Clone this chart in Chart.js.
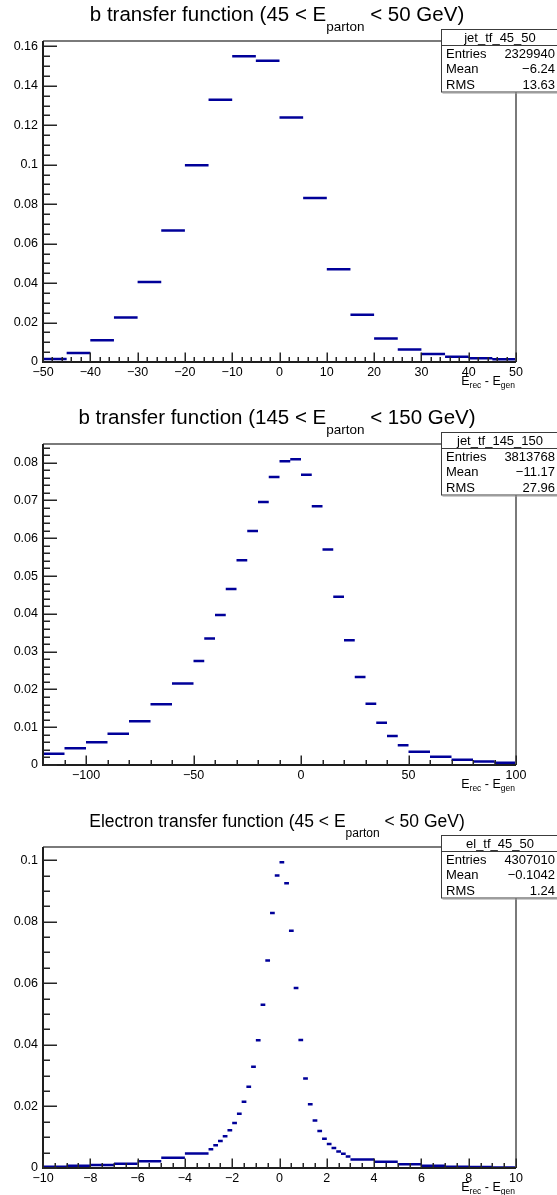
<!DOCTYPE html>
<html>
<head>
<meta charset="utf-8">
<script src="https://cdn.jsdelivr.net/npm/chart.js@4/dist/chart.umd.min.js"></script>
<style>
  html, body { margin: 0; padding: 0; background: #fff; }
  #wrap { position: relative; width: 557px; height: 1195px; overflow: hidden; background: #fff; }
  .pad { position: absolute; left: 0; width: 557px; height: 392px; }
</style>
</head>
<body>
<div id="wrap">
  <div class="pad" style="top:0px"><canvas id="c1" width="557" height="392"></canvas></div>
  <div class="pad" style="top:403px"><canvas id="c2" width="557" height="392"></canvas></div>
  <div class="pad" style="top:806px"><canvas id="c3" width="557" height="392"></canvas></div>
</div>
<script>
// --- data (fraction of entries per bin) ---

// b jets, 45 < E_parton < 50 GeV
const bEdges45 = [-50,-45,-40,-35,-30,-25,-20,-15,-10,-5,0,5,10,15,20,25,30,35,40,45,50];
const bFrac45 = [0.0015,0.0045,0.0110,0.0226,0.0406,0.0667,0.0997,0.1330,0.1550,0.1527,
                 0.1240,0.0832,0.0470,0.0240,0.0119,0.0064,0.0040,0.0026,0.0019,0.0014];
const bXTicks45 = [-50,-40,-30,-20,-10,0,10,20,30,40,50];
const bYTicks45 = [0,0.02,0.04,0.06,0.08,0.1,0.12,0.14,0.16];

// b jets, 145 < E_parton < 150 GeV (variable binning)
const bEdges145 = [-120,-110,-100,-90,-80,-70,-60,-50,-45,-40,-35,-30,-25,-20,-15,-10,-5,
                   0,5,10,15,20,25,30,35,40,45,50,60,70,80,90,100];
const bFrac145 = [0.0030,0.0044,0.0060,0.0083,0.0116,0.0161,0.0216,
                  0.0275,0.0335,0.0397,0.0466,0.0542,0.0619,0.0696,0.0762,0.0804,0.0809,
                  0.0768,0.0685,0.0570,0.0445,0.0330,0.0233,0.0162,0.0112,0.0077,0.0052,
                  0.0035,0.0022,0.0014,0.0009,0.0006];
const bXTicks145 = [-100,-50,0,50,100];
const bYTicks145 = [0,0.01,0.02,0.03,0.04,0.05,0.06,0.07,0.08];

// electrons, 45 < E_parton < 50 GeV (variable binning)
const elEdges45 = [-10,-9,-8,-7,-6,-5,-4,-3,
                   -2.8,-2.6,-2.4,-2.2,-2,-1.8,-1.6,-1.4,-1.2,-1,-0.8,-0.6,-0.4,-0.2,
                   0,0.2,0.4,0.6,0.8,1,1.2,1.4,1.6,1.8,2,2.2,2.4,2.6,2.8,3,
                   4,5,6,7,8,9,10];
const elFrac45 = [0.0004,0.0007,0.0010,0.0014,0.0022,0.0033,0.0047,
                  0.0061,0.0074,0.0088,0.0103,0.0123,0.0146,0.0176,0.0215,0.0264,0.0329,
                  0.0415,0.0530,0.0674,0.0828,0.0950,0.0993,0.0925,0.0771,0.0585,0.0416,
                  0.0291,0.0207,0.0154,0.0120,0.0095,0.0078,0.0065,0.0054,0.0046,0.0037,
                  0.0028,0.0020,0.0012,0.0007,0.0004,0.0003,0.0002];
const elXTicks45 = [-10,-8,-6,-4,-2,0,2,4,6,8,10];
const elYTicks45 = [0,0.02,0.04,0.06,0.08,0.1];

// stats boxes
const statLabels = ['Entries', 'Mean', 'RMS'];
const stats45 = ['2329940', '-6.24', '13.63'];
const stats145 = ['3813768', '-11.17', '27.96'];
const statsEl = ['4307010', '-0.1042', '1.24'];

const FONT = "'Liberation Sans', Arial, Helvetica, sans-serif";
const LINE = '#000099';

// ROOT-like number text with a real minus sign
function fmt(v){
  return String(parseFloat(Number(v).toFixed(4))).replace('-', '\u2212');
}

// one flat segment per bin, broken between bins
function histPoints(edges, vals){
  const pts = [];
  vals.forEach((v, i) => {
    pts.push({x: edges[i], y: v}, {x: edges[i+1], y: v}, {x: edges[i+1], y: null});
  });
  return pts;
}

// draw a run of [text, size, drop] pieces, centred or right aligned at x
function drawPieces(ctx, x, y, pieces, align){
  const widths = pieces.map(([t, s]) => { ctx.font = s + 'px ' + FONT; return ctx.measureText(t).width; });
  const total = widths.reduce((a, b) => a + b, 0);
  let x0 = align === 'center' ? x - total / 2 : x - total;
  ctx.textAlign = 'left';
  ctx.textBaseline = 'alphabetic';
  pieces.forEach(([t, s, drop], i) => {
    ctx.font = s + 'px ' + FONT;
    ctx.fillText(t, x0, y + drop);
    x0 += widths[i];
  });
}

// frame, inward ticks, title, axis title and stats box
function rootPlugin(p){
  return {
    id: 'rootStyle',
    afterDraw(chart){
      const ctx = chart.ctx, a = chart.chartArea;
      const xs = chart.scales.x, ys = chart.scales.y;
      ctx.save();

      // frame (top / right) and axes (left / bottom)
      ctx.lineWidth = 2;
      ctx.strokeStyle = '#7a7a7a';
      ctx.beginPath();
      ctx.moveTo(a.left, a.top); ctx.lineTo(a.right, a.top); ctx.lineTo(a.right, a.bottom);
      ctx.stroke();
      ctx.strokeStyle = '#1e1e1e';
      ctx.beginPath();
      ctx.moveTo(a.left, a.top); ctx.lineTo(a.left, a.bottom); ctx.lineTo(a.right, a.bottom);
      ctx.stroke();

      // ticks pointing into the frame
      ctx.lineWidth = 1.5;
      ctx.strokeStyle = '#262626';
      ctx.beginPath();
      const isMajor = (list, v, eps) => list.some(m => Math.abs(m - v) < eps);
      for (let k = 0; k * p.yMinor <= ys.max + 1e-9; k++){
        const v = k * p.yMinor;
        const py = Math.round(ys.getPixelForValue(v)) + 0.25;
        const len = isMajor(p.yTicks, v, p.yMinor / 10) ? 14 : 7;
        ctx.moveTo(a.left, py); ctx.lineTo(a.left + len, py);
      }
      for (let k = 0; p.xMin + k * p.xMinor <= p.xMax + 1e-9; k++){
        const v = p.xMin + k * p.xMinor;
        const px = Math.round(xs.getPixelForValue(v)) + 0.25;
        const len = isMajor(p.xTicks, v, p.xMinor / 10) ? 9.5 : 5;
        ctx.moveTo(px, a.bottom); ctx.lineTo(px, a.bottom - len);
      }
      ctx.stroke();

      ctx.fillStyle = '#000';
      // title with subscript
      const ts = p.titleSize, ss = p.titleSub;
      drawPieces(ctx, 277, 21, [[p.title[0], ts, 0], [p.title[1], ss, 10], [p.title[2], ts, 0]], 'center');
      // x-axis title, right aligned at the end of the axis
      drawPieces(ctx, a.right - 1, 385,
        [['E', 12.5, 0], ['rec', 8.5, 2.5], [' - ', 12.5, 0], ['E', 12.5, 0], ['gen', 8.5, 2.5]], 'right');

      // stats box
      const bx = 441.5, by = 29.5, bw = 120, bh = 62.5;
      ctx.fillStyle = '#fff';
      ctx.fillRect(bx, by, bw, bh);
      ctx.lineWidth = 1;
      ctx.strokeStyle = '#3c3c3c';
      ctx.strokeRect(bx, by, bw, bh);
      ctx.strokeStyle = '#9a9a9a';
      ctx.beginPath(); ctx.moveTo(bx + 1, by + bh + 1); ctx.lineTo(557, by + bh + 1); ctx.stroke();
      ctx.strokeStyle = '#3c3c3c';
      ctx.beginPath(); ctx.moveTo(bx, by + 16); ctx.lineTo(557, by + 16); ctx.stroke();
      ctx.fillStyle = '#000';
      ctx.font = '13px ' + FONT;
      ctx.textBaseline = 'alphabetic';
      ctx.textAlign = 'center';
      ctx.fillText(p.statName, 500, 41.5);
      statLabels.forEach((lab, i) => {
        const yy = 58 + i * 15.3;
        ctx.textAlign = 'left';
        ctx.fillText(lab, 446, yy);
        ctx.textAlign = 'right';
        ctx.fillText(fmt(p.stats[i]), 555, yy);
      });
      ctx.restore();
    }
  };
}

function makePanel(id, p){
  const ymax = 1.05 * Math.max(...p.values);
  const tickFont = { family: FONT, size: 12.5 };
  return new Chart(document.getElementById(id), {
    type: 'line',
    data: {
      datasets: [{
        data: histPoints(p.edges, p.values),
        borderColor: LINE,
        borderWidth: 2.5,
        pointRadius: 0,
        spanGaps: false,
        tension: 0,
        fill: false
      }]
    },
    options: {
      responsive: false,
      animation: false,
      devicePixelRatio: 1,
      layout: { padding: { left: 0, top: 41, right: 41, bottom: 0 } },
      plugins: { legend: { display: false }, tooltip: { enabled: false }, title: { display: false } },
      scales: {
        x: {
          type: 'linear', min: p.xMin, max: p.xMax,
          grid: { display: false, drawTicks: false },
          border: { display: false },
          afterBuildTicks: s => { s.ticks = p.xTicks.map(v => ({ value: v })); },
          afterFit: s => { s.height = 30; },
          ticks: { font: tickFont, color: '#000', padding: 3, maxRotation: 0, autoSkip: false, callback: v => fmt(v) }
        },
        y: {
          type: 'linear', min: 0, max: ymax,
          grid: { display: false, drawTicks: false },
          border: { display: false },
          afterBuildTicks: s => { s.ticks = p.yTicks.map(v => ({ value: v })); },
          afterFit: s => { s.width = 43; },
          ticks: { font: tickFont, color: '#000', padding: 5, autoSkip: false, callback: v => fmt(v) }
        }
      }
    },
    plugins: [rootPlugin(p)]
  });
}

makePanel('c1', {
  edges: bEdges45, values: bFrac45, xMin: -50, xMax: 50, xTicks: bXTicks45, xMinor: 2,
  yTicks: bYTicks45, yMinor: 0.005,
  title: ['b transfer function (45 < E', 'parton', ' < 50 GeV)'], titleSize: 20.5, titleSub: 13.5,
  statName: 'jet_tf_45_50', stats: stats45
});
makePanel('c2', {
  edges: bEdges145, values: bFrac145, xMin: -120, xMax: 100, xTicks: bXTicks145, xMinor: 10,
  yTicks: bYTicks145, yMinor: 0.002,
  title: ['b transfer function (145 < E', 'parton', ' < 150 GeV)'], titleSize: 20.5, titleSub: 13.5,
  statName: 'jet_tf_145_150', stats: stats145
});
makePanel('c3', {
  edges: elEdges45, values: elFrac45, xMin: -10, xMax: 10, xTicks: elXTicks45, xMinor: 0.5,
  yTicks: elYTicks45, yMinor: 0.005,
  title: ['Electron transfer function (45 < E', 'parton', ' < 50 GeV)'], titleSize: 17.5, titleSub: 12,
  statName: 'el_tf_45_50', stats: statsEl
});
</script>
</body>
</html>
